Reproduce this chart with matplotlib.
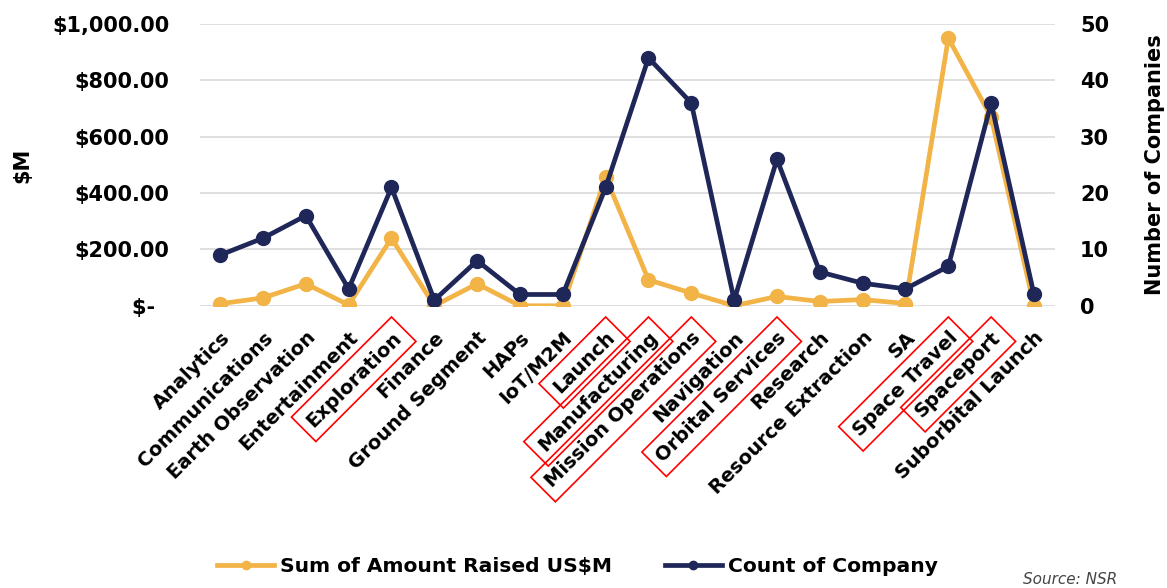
import matplotlib.pyplot as plt
from matplotlib.ticker import FuncFormatter, MultipleLocator

categories = ['Analytics', 'Communications', 'Earth Observation', 'Entertainment',
              'Exploration', 'Finance', 'Ground Segment', 'HAPs', 'IoT/M2M', 'Launch',
              'Manufacturing', 'Mission Operations', 'Navigation', 'Orbital Services',
              'Research', 'Resource Extraction', 'SA', 'Space Travel', 'Spaceport',
              'Suborbital Launch']
amount_raised = [7, 28, 78, 3, 240, 0, 78, 0, 0, 457,
                 92, 45, 0, 33, 15, 22, 8, 950, 670, 0]
company_count = [9, 12, 16, 3, 21, 1, 8, 2, 2, 21,
                 44, 36, 1, 26, 6, 4, 3, 7, 36, 2]
boxed = ['Exploration', 'Launch', 'Manufacturing', 'Mission Operations',
         'Orbital Services', 'Space Travel', 'Spaceport']

orange = '#F2B347'
navy = '#1F2759'

plt.rcParams['font.family'] = ['DejaVu Sans']
plt.rcParams['font.weight'] = 'bold'

fig = plt.figure(figsize=(11.67, 5.88), dpi=100)
ax = fig.add_axes([0.1714, 0.48, 0.7326, 0.479])
ax2 = ax.twinx()

x = list(range(len(categories)))
ax.plot(x, amount_raised, color=orange, lw=3.4, marker='o', ms=10,
        label='Sum of Amount Raised US$M', zorder=3)
ax2.plot(x, company_count, color=navy, lw=3.4, marker='o', ms=10,
         label='Count of Company', zorder=3)

ax.set_ylim(0, 1000)
ax2.set_ylim(0, 50)
ax.set_xlim(-0.47, 19.49)
ax.yaxis.set_major_locator(MultipleLocator(200))
ax2.yaxis.set_major_locator(MultipleLocator(10))

def money(v, pos):
    if v == 0:
        return '$-  '
    return '${:,.2f}'.format(v)

ax.yaxis.set_major_formatter(FuncFormatter(money))
ax.grid(axis='y', color='#d9d9d9', lw=1.2)
ax.set_axisbelow(True)

for a in (ax, ax2):
    for s in a.spines.values():
        s.set_visible(False)
    a.tick_params(length=0, labelsize=15)

ax.tick_params(axis='y', pad=22)
ax2.tick_params(axis='y', pad=18)

ax.set_xticks(x)
ax.set_xticklabels(categories, rotation=45, ha='right', rotation_mode='anchor',
                   fontsize=14)
ax.tick_params(axis='x', pad=16)
for t in ax.get_xticklabels():
    if t.get_text() in boxed:
        t.set_bbox(dict(boxstyle='square,pad=0.4', fc='none', ec='red', lw=1.2))

ax.set_ylabel('$M', fontsize=15, fontweight='bold', labelpad=14)
ax2.set_ylabel('Number of Companies', fontsize=15, fontweight='bold', labelpad=26)

h1, l1 = ax.get_legend_handles_labels()
h2, l2 = ax2.get_legend_handles_labels()
fig.legend(h1 + h2, l1 + l2, loc='lower center', ncol=2, frameon=False,
           bbox_to_anchor=(0.495, -0.01), fontsize=14.6, handlelength=2.8,
           handletextpad=0.3, columnspacing=2.6, markerscale=0.6)

fig.text(0.877, 0.006, 'Source: NSR', fontsize=11, style='italic',
         fontweight='normal', color='#444444')

fig.savefig('out.png', dpi=100)
